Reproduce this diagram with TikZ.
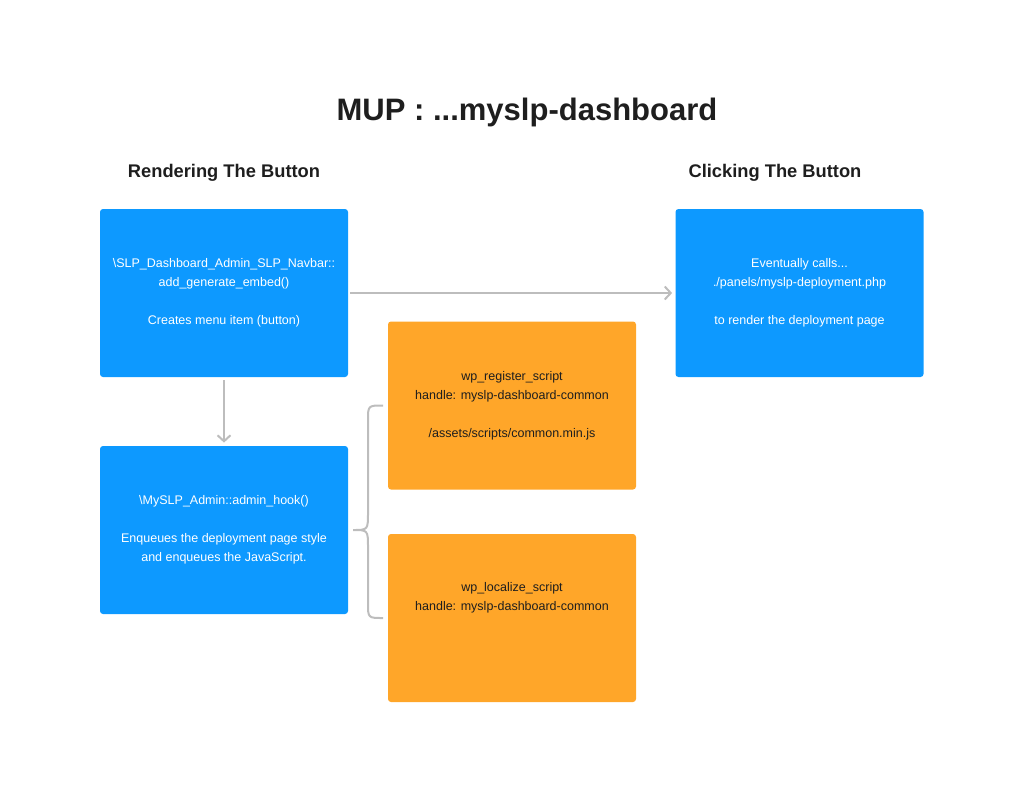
\documentclass[tikz,border=0pt]{standalone}
\usepackage{fontspec}
\setmainfont{Liberation Sans}
\usetikzlibrary{arrows.meta}
\definecolor{boxblue}{HTML}{0D99FF}
\definecolor{boxorange}{HTML}{FFA629}
\definecolor{linegray}{HTML}{BDBDBD}
\definecolor{inkdark}{HTML}{1E1E1E}
\begin{document}
\begin{tikzpicture}
		[x=1pt, y=-1pt, thick,
		box/.style={rectangle, rounded corners=3pt, inner sep=0pt, minimum width=248pt, minimum height=168pt, align=center, font=\fontsize{12.5}{19}\selectfont},
		bluebox/.style={box, fill=boxblue, text=white},
		orangebox/.style={box, fill=boxorange, text=inkdark},
		arr/.style={draw=linegray, line width=2pt, -{Straight Barb[length=6pt, width=13pt]}},
		heading/.style={font=\bfseries\fontsize{18.3}{22}\selectfont, text=inkdark}]
		\useasboundingbox (0,0) rectangle (1024,803);
		
		\node [font=\bfseries\fontsize{31}{36}\selectfont, text=inkdark](title) at (527,112) {MUP : ...myslp-dashboard};
		\node [heading](hrender) at (224,173) {Rendering The Button};
		\node [heading](hclick) at (775,173) {Clicking The Button};
		
		\node [bluebox](n1) at (224,293) {\textbackslash SLP\_Dashboard\_Admin\_SLP\_Navbar::\\add\_generate\_embed()\\[19pt]Creates menu item (button)};
		\node [bluebox](n2) at (224,530) {\textbackslash MySLP\_Admin::admin\_hook()\\[19pt]Enqueues the deployment page style\\and enqueues the JavaScript.};
		\node [bluebox](n3) at (799.5,293) {Eventually calls...\\./panels/myslp-deployment.php\\[19pt]to render the deployment page};
		\node [orangebox](o1) at (512,405.5) {wp\_register\_script\\handle: myslp-dashboard-common\\[19pt]/assets/scripts/common.min.js};
		\node [orangebox](o2) at (512,618) {wp\_localize\_script\\handle: myslp-dashboard-common\\\strut\\\strut};
		
		\draw[arr, shorten <=2pt, shorten >=3pt] (n1) -- (n3);
		\draw[arr, shorten <=3pt, shorten >=3pt] (n1) -- (n2);
		
		% brace from n2 to the two orange boxes
		\coordinate (tip) at (353,530);
		\coordinate (btop) at (383,405.5);
		\coordinate (bbot) at (383,618);
		\draw[linegray, line width=2pt] (btop) .. controls (368,405.5) .. (368,420.5) -- (368,512) .. controls (368,530) .. (tip)
		.. controls (368,530) .. (368,548) -- (368,603) .. controls (368,618) .. (bbot);
		\end{tikzpicture}
\end{document}
